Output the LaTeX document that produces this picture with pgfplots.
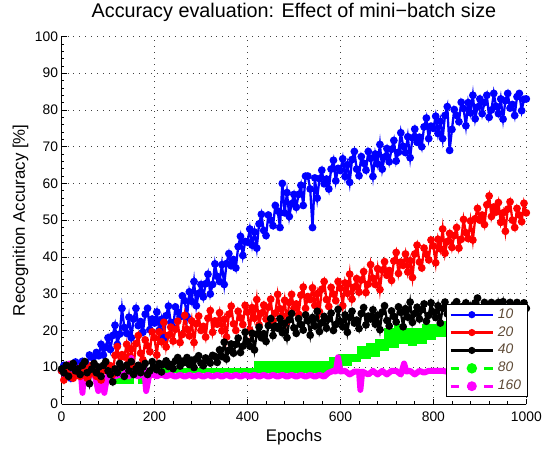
\documentclass[border=0pt]{standalone}
\usepackage{fontspec}
\setmainfont{Liberation Sans}
\usepackage{pgfplots}
\pgfplotsset{compat=1.18}
\definecolor{mblue}{rgb}{0,0,1}
\definecolor{mred}{rgb}{1,0,0}
\definecolor{mgreen}{rgb}{0,1,0}
\definecolor{mmag}{rgb}{1,0,1}
\definecolor{legtext}{RGB}{95,75,55}
\begin{document}
\begin{tikzpicture}
\path (-62bp,-43bp) rectangle (483bp,404bp);
\begin{axis}[
  at={(0,0)}, anchor=south west,
  scale only axis, width=468bp, height=370bp,
  xmin=0, xmax=1000, ymin=0, ymax=100,
  xtick={0,200,...,1000}, ytick={0,10,...,100},
  minor x tick num=4, minor y tick num=4,
  axis x line*=bottom, axis y line*=left,
  axis line style={black, line width=0.6bp, -},
  tick align=inside,
  major tick length=5bp, minor tick length=2.5bp,
  tick style={black, line width=0.6bp},
  grid=major,
  grid style={black!75, line width=0.7bp, dash pattern=on 0.7bp off 5.3bp},
  /pgf/number format/assume math mode=true,
  /pgf/number format/1000 sep={},
  tick label style={font=\fontsize{14}{16}\selectfont},
  xticklabel style={anchor=base, yshift=-18bp},
  title={Accuracy evaluation: Effect of mini−batch size},
  title style={at={(axis description cs:0.5,1)}, anchor=base, yshift=13bp, font=\fontsize{20}{24}\selectfont},
  xlabel={Epochs},
  xlabel style={at={(axis description cs:0.5,0)}, anchor=base, yshift=-38bp, font=\fontsize{17}{20}\selectfont},
  ylabel={Recognition Accuracy [\%]},
  ylabel style={at={(axis description cs:-0.0791,0.5)}, anchor=base, font=\fontsize{17}{20}\selectfont},
  legend style={at={(axis description cs:1,0.019)}, anchor=south east, xshift=1bp,
    draw=black, line width=0.6bp, fill=white,
    inner xsep=3bp, inner ysep=1.5bp, row sep=0pt,
    font=\fontsize{14}{16}\selectfont\itshape,
    nodes={text=legtext, text height=10bp, text depth=3bp, inner ysep=2.5bp, inner xsep=3bp}},
  legend cell align=left,
  legend image code/.code={\draw[#1, mark=none] (0bp,0bp) -- (43bp,0bp); \draw[#1, solid] plot coordinates {(21.5bp,0bp)};},
]
% ---- 10 ----
\addplot[forget plot, mblue, line width=2.3bp, mark=*, mark size=2.7bp] coordinates {
(0,9) (5,10.5) (10,8) (15,9.5) (20,7) (25,10) (30,11.4) (35,9.3) (40,8.7) (45,11.6) (50,11) (55,10.4) (60,13.3) (65,12.7) (70,10.6) (75,14) (80,13.1) (85,16.2) (90,13.3) (95,15.4)
(100,18) (105,14.8) (110,18.6) (115,21.4) (120,16.2) (125,19) (130,26) (135,20.8) (140,19.2) (145,23.6) (150,18) (155,23.1) (160,26) (165,21.3) (170,22.4) (175,19.5) (180,24.4) (185,26) (190,20.2) (195,23.1)
(200,22) (205,25) (210,20) (215,23) (220,18) (225,24) (230,26.6) (235,22.2) (240,20.8) (245,26.4) (250,25) (255,23.7) (260,29.4) (265,28.1) (270,23.8) (275,30.5) (280,27.9) (285,33.3) (290,26.7) (295,30.1)
(300,32.5) (305,29.1) (310,32.7) (315,35.3) (320,29.9) (325,32.5) (330,38.1) (335,34.7) (340,33.3) (345,37.9) (350,32.5) (355,38.2) (360,40.9) (365,37.6) (370,39.3) (375,37) (380,42.8) (385,45.6) (390,40.4) (395,44.2)
(400,44) (405,47.6) (410,43.2) (415,46.8) (420,42.4) (425,49) (430,51.6) (435,47.2) (440,45.8) (445,51.4) (450,50) (455,48.5) (460,54) (465,52.5) (470,48) (475,60) (480,52) (485,57.5) (490,51) (495,54.5)
(500,57) (505,53.5) (510,57) (515,59.5) (520,54) (525,62) (530,62) (535,58.5) (540,48) (545,61.5) (550,56) (555,61.3) (560,63.6) (565,59.9) (570,61.2) (575,58.5) (580,63.9) (585,66.3) (590,60.7) (595,64.1)
(600,63.5) (605,66.7) (610,61.9) (615,65.1) (620,60.3) (625,66.5) (630,68.7) (635,63.9) (640,62.1) (645,67.3) (650,65.5) (655,63.6) (660,68.7) (665,66.8) (670,61.9) (675,68) (680,65.3) (685,70.6) (690,63.9) (695,67.2)
(700,69.5) (705,65.9) (710,69.3) (715,71.7) (720,66.1) (725,68.5) (730,73.8) (735,70.1) (740,68.4) (745,72.7) (750,67) (755,72.4) (760,74.8) (765,71.2) (770,72.6) (775,70) (780,75.4) (785,77.8) (790,72.2) (795,75.6)
(800,75) (805,78.3) (810,73.6) (815,76.9) (820,72.2) (825,78.5) (830,80.9) (835,69) (840,74.7) (845,80.1) (850,78.5) (855,76.8) (860,82.1) (865,80.4) (870,75.7) (875,82) (880,79.2) (885,84) (890,77.6) (895,80.8)
(900,83) (905,79) (910,82) (915,84) (920,78) (925,80) (930,84.5) (935,81) (940,79) (945,83) (950,77.5) (955,82.5) (960,84.5) (965,80.5) (970,81.5) (975,78.5) (980,83.6) (985,84.5) (990,79.8) (995,82.9) (1000,83)
};
% ---- 20 ----
\addplot[forget plot, mred, line width=2.3bp, mark=*, mark size=2.7bp] coordinates {
(0,9) (5,6.5) (10,9.5) (15,8) (20,10.5) (25,7) (30,8.5) (35,9.5) (40,7.5) (45,9) (50,10) (55,7) (60,8) (65,10.5) (70,8.5) (75,7.5) (80,9.5) (85,6.5) (90,9) (95,10)
(100,9) (105,10.4) (110,8) (115,13.2) (120,15.6) (125,10) (130,13.4) (135,12.8) (140,16.2) (145,11.6) (150,15) (155,10.2) (160,16.4) (165,18.6) (170,13.8) (175,12) (180,17.4) (185,15.8) (190,14.2) (195,19.6)
(200,18) (205,13.3) (210,19.6) (215,16.9) (220,22.2) (225,15.5) (230,18.7) (235,20.9) (240,17.1) (245,20.3) (250,22.5) (255,16.7) (260,18.9) (265,24.1) (270,20.3) (275,18.5) (280,22.6) (285,16.7) (290,21.8) (295,23.9)
(300,20) (305,21.1) (310,18.2) (315,23.3) (320,25.4) (325,19.5) (330,22.6) (335,21.7) (340,24.8) (345,19.9) (350,23) (355,18.2) (360,24.4) (365,26.6) (370,21.8) (375,20) (380,25.2) (385,23.4) (390,21.6) (395,26.8)
(400,25) (405,20.1) (410,26.2) (415,23.3) (420,28.4) (425,21.5) (430,24.7) (435,26.9) (440,23.1) (445,26.3) (450,28.5) (455,22.6) (460,24.7) (465,29.8) (470,25.9) (475,24) (480,28.2) (485,22.4) (490,27.6) (495,29.8)
(500,26) (505,27.2) (510,24.4) (515,29.6) (520,31.8) (525,26) (530,29.2) (535,28.4) (540,31.6) (545,26.8) (550,30) (555,25.1) (560,31.2) (565,33.3) (570,28.4) (575,26.5) (580,31.7) (585,29.9) (590,28.1) (595,33.3)
(600,31.5) (605,26.7) (610,32.9) (615,30.1) (620,35.3) (625,28.5) (630,31.8) (635,34.1) (640,30.4) (645,33.7) (650,36) (655,30.3) (660,32.6) (665,37.9) (670,34.2) (675,32.5) (680,36.8) (685,31.1) (690,36.4) (695,38.7)
(700,35) (705,36.3) (710,33.6) (715,38.9) (720,41.2) (725,35.5) (730,38.6) (735,37.7) (740,40.8) (745,35.9) (750,39) (755,34.4) (760,40.8) (765,43.2) (770,38.6) (775,37) (780,42.4) (785,40.8) (790,39.2) (795,44.6)
(800,43) (805,38.4) (810,44.8) (815,42.2) (820,47.6) (825,41) (830,44.2) (835,46.4) (840,42.6) (845,45.8) (850,48) (855,42.4) (860,44.8) (865,50.2) (870,46.6) (875,45) (880,49.8) (885,44.6) (890,50.4) (895,53.2)
(900,50) (905,51.4) (910,48.8) (915,54.2) (920,56.6) (925,51) (930,53.6) (935,52.2) (940,54.8) (945,49.4) (950,52) (955,47) (960,53) (965,55) (970,50) (975,48) (980,53.2) (985,51.4) (990,49.6) (995,54.6) (1000,52)
};
% ---- 40 ----
\addplot[forget plot, black, line width=2.3bp, mark=*, mark size=2.7bp] coordinates {
(0,9.5) (5,8.5) (10,10.5) (15,7.5) (20,10) (25,11) (30,9) (35,9.5) (40,8) (45,10.5) (50,11.5) (55,8.5) (60,5.5) (65,9.5) (70,11) (75,8.5) (80,10) (85,7.5) (90,10.5) (95,11.5)
(100,9) (105,8) (110,6) (115,9.5) (120,8.5) (125,11) (130,10) (135,7.5) (140,10.5) (145,9) (150,11.5) (155,8) (160,9.5) (165,10.5) (170,8.5) (175,10) (180,11) (185,8) (190,9) (195,11.5)
(200,10) (205,9.3) (210,11) (215,8.7) (220,10.8) (225,11.7) (230,10.2) (235,10.7) (240,9.6) (245,11.7) (250,12.6) (255,10.3) (260,11.6) (265,11.3) (270,12.6) (275,10.7) (280,11.9) (285,9.9) (290,12.3) (295,13.1)
(300,11.1) (305,10.4) (310,12.5) (315,11.8) (320,11.1) (325,13.2) (330,12.9) (335,11.3) (340,14.7) (345,12.9) (350,16.8) (355,12.2) (360,14.6) (365,16.3) (370,13.8) (375,16.2) (380,17.9) (385,14) (390,15.7) (395,19.5)
(400,17) (405,15.7) (410,19.2) (415,14.7) (420,19) (425,20.9) (430,18) (435,19.1) (440,17) (445,21.3) (450,23.2) (455,18.6) (460,21.2) (465,20.6) (470,23.2) (475,19.4) (480,21.9) (485,18) (490,22.9) (495,24.6)
(500,20.7) (505,19.2) (510,23.2) (515,21.6) (520,20.1) (525,24.2) (530,22.6) (535,18.7) (540,23.5) (545,21.2) (550,25.2) (555,19.7) (560,22.1) (565,23.8) (570,20.6) (575,23.1) (580,24.7) (585,20) (590,21.6) (595,25.7)
(600,22.5) (605,21) (610,24.2) (615,19.5) (620,23.5) (625,25.2) (630,22) (635,22.8) (640,20.5) (645,24.6) (650,26.2) (655,21.5) (660,23.9) (665,23.1) (670,25.6) (675,21.7) (680,24.1) (685,20.2) (690,25) (695,26.7)
(700,22.7) (705,21.2) (710,25.3) (715,23.8) (720,22.3) (725,26.4) (730,24.9) (735,21) (740,25.9) (745,23.6) (750,27.7) (755,22.2) (760,24.6) (765,26.3) (770,23.1) (775,25.6) (780,27.2) (785,22.5) (790,24.1) (795,27.5)
(800,25) (805,23.5) (810,26.7) (815,22) (820,26) (825,27.7) (830,24.5) (835,25.3) (840,23) (845,27) (850,27.8) (855,24) (860,26.4) (865,25.6) (870,27.5) (875,24.2) (880,26.6) (885,22.7) (890,27.5) (895,28.8)
(900,25.2) (905,23.6) (910,27.6) (915,26) (920,24.4) (925,27.6) (930,26.8) (935,22.8) (940,27.6) (945,25.2) (950,27.8) (955,23.6) (960,26) (965,27.6) (970,24.4) (975,26.8) (980,27.6) (985,23.6) (990,25.2) (995,27.5) (1000,26)
};
% ---- 80 ----
\addplot[forget plot, mgreen, line width=5bp, const plot, mark=none] coordinates {
(0,9) (10,9) (20,9) (30,9) (40,9) (50,9) (60,9) (70,9) (80,9) (90,9) (100,9) (110,9) (120,6) (130,9) (140,6) (150,9) (160,9) (170,6) (180,9) (190,9) (200,9) (250,9) (300,9) (350,9) (410,9)
(420,11) (430,9) (440,11) (450,9) (460,11) (470,9) (480,11) (490,9) (500,11) (510,9) (520,11) (530,9) (540,11) (550,9) (560,11) (570,9)
(580,12) (590,10.5) (600,13) (610,11) (620,13) (630,12) (640,15) (650,13) (660,16) (670,13.5) (680,17) (690,15) (700,20) (710,16) (720,21) (730,17) (740,20) (750,16.5) (760,20) (770,17) (780,21) (790,18)
(800,21) (810,19) (820,22) (830,19) (840,22) (850,20) (860,23) (870,20) (880,23) (890,21) (900,24) (910,21) (920,25) (930,22) (940,25) (950,22) (960,26) (970,23) (980,26) (990,23) (1000,26)
};
% ---- 160 ----
\addplot[forget plot, mmag, line width=6bp, line join=round, mark=none] coordinates {
(0,7.5) (10,8) (17,11) (24,7.5) (32,8) (38,11) (42,7.5) (45,3) (48,8) (55,7.5) (65,8) (72,7.5) (79,3.5) (85,8) (92,3) (98,7.5) (105,8) (115,7.5) (125,8) (135,7.5) (141,11) (145,7.5) (150,12.5) (155,8) (165,7.5) (172,8) (177,10.8) (182,3.5) (188,7.5) (195,8)
(205,7.5) (215,8) (225,7.5) (235,7.9) (245,7.4) (255,7.9) (265,7.4) (275,7.9) (285,7.4) (295,7.9) (305,7.4) (315,7.9) (325,7.4) (335,7.9) (345,7.4) (355,7.9) (365,7.4) (375,7.9) (385,7.4) (395,7.9)
(405,7.4) (415,7.9) (425,7.4) (435,7.9) (445,7.4) (455,7.9) (465,7.4) (475,7.9) (485,7.4) (495,7.9) (505,7.4) (515,7.9) (525,7.4) (535,7.9) (545,7.4) (555,7.9) (565,7.4) (575,8.5)
(585,9) (590,8.8) (595,12.7) (600,8.8) (610,9) (620,8) (630,8.8) (640,8.8) (643,3.8) (647,8.8) (660,8) (670,9) (680,8) (690,9) (700,8) (710,9) (720,9) (730,8) (737,11) (742,8.8) (750,9) (760,8) (770,9) (780,8.5) (790,9)
(800,9) (820,9) (840,8.5) (860,9) (880,9) (900,9) (920,9.5) (940,10) (960,11) (970,12) (980,12.5) (990,12) (1000,12.5)
};
\addlegendimage{mblue, line width=2.3bp, mark=*, mark size=2.4bp}
\addlegendentry{10}
\addlegendimage{mred, line width=2.3bp, mark=*, mark size=2.4bp}
\addlegendentry{20}
\addlegendimage{black, line width=2.3bp, mark=*, mark size=2.4bp}
\addlegendentry{40}
\addlegendimage{mgreen, line width=3.5bp, dash pattern=on 9bp off 8bp, mark=*, mark size=3.4bp}
\addlegendentry{80}
\addlegendimage{mmag, line width=3bp, dash pattern=on 9bp off 8bp, mark=*, mark size=3.4bp}
\addlegendentry{160}
\end{axis}
\end{tikzpicture}
\end{document}
